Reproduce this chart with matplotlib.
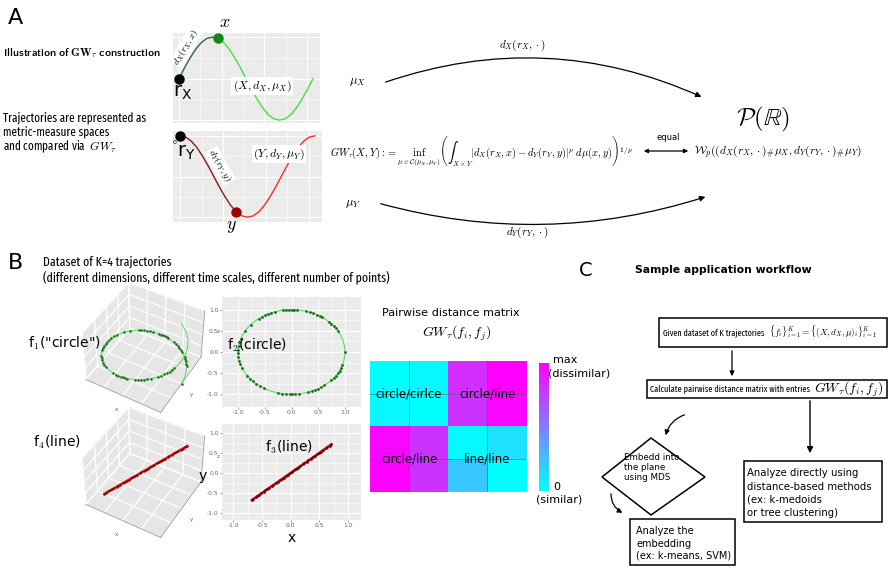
import numpy as np
import matplotlib
matplotlib.use("Agg")
import matplotlib.pyplot as plt
from matplotlib.patches import FancyArrowPatch, Rectangle, Polygon, Circle
from matplotlib import font_manager
from matplotlib.font_manager import FontProperties
from matplotlib.textpath import TextPath

plt.rcParams["mathtext.fontset"] = "cm"
plt.rcParams["font.family"] = ["DejaVu Sans"]

W, H = 888, 568

# ---------------- data ----------------
# sketch trajectories of panel A (one cycle, 25 samples)
wave_steps = list(range(25))
traj_x_vals = [0.00, 0.26, 0.50, 0.71, 0.87, 0.97, 1.00, 0.97, 0.87, 0.71, 0.50, 0.26, 0.00,
               -0.26, -0.50, -0.71, -0.87, -0.97, -1.00, -0.97, -0.87, -0.71, -0.50, -0.26, 0.00]
traj_y_vals = [1.00, 0.97, 0.87, 0.71, 0.50, 0.26, 0.00, -0.26, -0.50, -0.71, -0.87, -0.97, -1.00,
               -0.97, -0.87, -0.71, -0.50, -0.26, 0.00, 0.26, 0.50, 0.71, 0.87, 0.97, 1.00]
point_x_index = 7
point_y_index = 10

# sampled points of the "circle" trajectories (angle in degrees)
circle_dot_angles = [0, 30, 34, 38, 42, 46, 55, 58, 62, 66, 70, 74, 84, 87, 90, 93, 96, 99,
                     108, 112, 116, 120, 124, 128, 140, 150, 162, 167, 172, 177, 182, 187, 192,
                     197, 202, 214, 219, 224, 229, 234, 239, 255, 260, 264, 268, 271, 274, 278,
                     288, 292, 296, 300, 304, 308, 318, 322, 326, 330, 334, 338, 342]
helix_line_angles = list(range(0, 421, 10))
helix_rise = 0.55

# sampled points of the "line" trajectories
line_dot_pos = [-0.68, -0.65, -0.61, -0.58, -0.55, -0.51, -0.47, -0.44, -0.41, -0.37, -0.33, -0.30,
                -0.26, -0.22, -0.19, -0.15, -0.12, -0.08, -0.05, -0.01, 0.03, 0.06, 0.10, 0.13,
                0.17, 0.21, 0.24, 0.28, 0.31, 0.35, 0.39, 0.42, 0.46, 0.50, 0.53, 0.57, 0.61,
                0.64, 0.68, 0.71]

# pairwise GW distances (scaled 0..1)
matrix_labels = ["circle/cirlce", "circle/line", "circle/line", "line/line"]
dist_matrix = [[0.00, 0.03, 0.82, 1.00],
               [0.03, 0.00, 0.80, 0.98],
               [0.97, 0.80, 0.02, 0.12],
               [1.00, 0.80, 0.22, 0.00]]
axis_ticks = [-1.0, -0.5, 0.0, 0.5, 1.0]

# ---------------- helpers ----------------
def prect(x0, y0, x1, y1):
    return [x0 / W, 1 - y1 / H, (x1 - x0) / W, (y1 - y0) / H]


_SAMPLE = "Trajectories are represented as"


def _width(prop):
    return TextPath((0, 0), _SAMPLE, size=10, prop=prop).get_extents().width


def _pick_narrow(bold, target=0.76):
    """Installed sans face whose width is closest to `target` x DejaVu Sans."""
    ref = _width(FontProperties(family="DejaVu Sans", weight="bold" if bold else "normal"))
    best, best_err = None, None
    seen = set()
    for f in font_manager.fontManager.ttflist:
        if f.fname in seen or f.style != "normal":
            continue
        seen.add(f.fname)
        name = f.name
        if any(k in name for k in ("Mono", "Serif", "CJK", "Math", "Symbol", "Emoji", "Display")):
            continue
        if not ("Sans" in name or name.startswith(("Roboto", "Lato", "Inter", "Open"))):
            continue
        w = f.weight if isinstance(f.weight, (int, float)) else (700 if "bold" in str(f.weight) else 400)
        if bold and not (600 <= w <= 800):
            continue
        if not bold and not (380 <= w <= 520):
            continue
        try:
            r = _width(FontProperties(fname=f.fname)) / ref
        except Exception:
            continue
        err = abs(r - target)
        if best is None or err < best_err:
            best, best_err = f, err
    return best


_reg = _pick_narrow(False)
_bld = _pick_narrow(True)
NARROW = dict(fontproperties=FontProperties(fname=_reg.fname)) if _reg else dict(family="DejaVu Sans")
NARROW_B = (dict(fontproperties=FontProperties(fname=_bld.fname)) if _bld
            else dict(family="DejaVu Sans", fontweight="bold"))

GG_BG = "#ebebeb"


def gg_panel(ax, xmaj, ymaj, xmin=None, ymin=None, labels=False):
    ax.set_facecolor(GG_BG)
    for s in ax.spines.values():
        s.set_visible(False)
    ax.set_xticks(xmaj)
    ax.set_yticks(ymaj)
    if xmin is not None:
        ax.set_xticks(xmin, minor=True)
    if ymin is not None:
        ax.set_yticks(ymin, minor=True)
    ax.grid(which="major", color="white", lw=0.8)
    ax.grid(which="minor", color="white", lw=0.4)
    ax.set_axisbelow(True)
    ax.tick_params(which="minor", length=0)
    if labels:
        ax.tick_params(which="major", length=1.5, width=0.5, color="#777777",
                       labelsize=4.3, labelcolor="#666666", pad=1)
        ax.set_xticklabels([f"{t:.1f}" for t in xmaj])
        ax.set_yticklabels([f"{t:.1f}" for t in ymaj])
    else:
        ax.tick_params(which="major", length=0, labelbottom=False, labelleft=False)


def style3d(ax):
    ax.set_facecolor("none")
    for axis in (ax.xaxis, ax.yaxis, ax.zaxis):
        axis.set_pane_color((0.90, 0.90, 0.90, 1.0))
        axis._axinfo["grid"].update(color="white", linewidth=0.9)
        axis._axinfo["tick"].update(inward_factor=0, outward_factor=0)
        axis.line.set_color("#9a9a9a")
        axis.line.set_linewidth(0.6)
    ax.set_xticks([-1, -0.5, 0, 0.5, 1])
    ax.set_yticks([-1, -0.5, 0, 0.5, 1])
    ax.set_zticks([0, 0.25, 0.5, 0.75, 1])
    ax.set_xticklabels([])
    ax.set_yticklabels([])
    ax.set_zticklabels([])
    ax.set_xlabel("x", fontsize=4, labelpad=-14, color="#666666")
    ax.set_ylabel("y", fontsize=4, labelpad=-14, color="#666666")
    ax.set_zlabel("z", fontsize=4, labelpad=-14, color="#666666")


fig = plt.figure(figsize=(W / 100, H / 100), dpi=100)
fig.patch.set_facecolor("white")

# ---------------- panel A: sketch trajectories ----------------
t_vals = np.array(wave_steps) * np.pi / 12
axX = fig.add_axes(prect(173, 33, 320, 123))
gg_panel(axX, [0, 2, 4, 6], [-1, 0, 1], [1, 3, 5], [-0.5, 0.5])
axX.set_xlim(-0.28, 6.61)
axX.set_ylim(-1.07, 1.10)
k = point_x_index
axX.plot(t_vals[:k + 1], traj_x_vals[:k + 1], color="#2d6e2d", lw=1.0)
axX.plot(t_vals[k:], traj_x_vals[k:], color="#44e044", lw=1.0)
axX.plot(t_vals[0], traj_x_vals[0], "o", color="black", ms=6.5, clip_on=False, zorder=5)
axX.plot(t_vals[k], traj_x_vals[k], "o", color="#118811", ms=6.5, clip_on=False, zorder=5)

axY = fig.add_axes(prect(173, 131, 322, 222))
gg_panel(axY, [0, 2, 4, 6], [-1, 0, 1], [1, 3, 5], [-0.5, 0.5])
axY.set_xlim(-0.33, 6.61)
axY.set_ylim(-1.12, 1.12)
k = point_y_index
axY.plot(t_vals[:k + 1], traj_y_vals[:k + 1], color="#8b1a1a", lw=1.0)
axY.plot(t_vals[k:], traj_y_vals[k:], color="#ff2a2a", lw=1.0)
axY.plot(t_vals[0], traj_y_vals[0], "o", color="black", ms=6.5, clip_on=False, zorder=5)
axY.plot(t_vals[k], traj_y_vals[k], "o", color="#a00000", ms=6.5, clip_on=False, zorder=5)

# ---------------- panel B: trajectory plots ----------------
ang = np.deg2rad(circle_dot_angles)
hl = np.deg2rad(helix_line_angles)

ax1 = fig.add_axes(prect(70, 280, 215, 415), projection="3d")
style3d(ax1)
ax1.plot(np.cos(hl), np.sin(hl), helix_rise * hl / (2 * np.pi), color="#66dd66", lw=0.8)
ax1.plot(np.cos(ang), np.sin(ang), helix_rise * ang / (2 * np.pi), "o", color="#1a6e1a",
         ms=1.8, mec="none")
ax1.set_xlim(-1, 1)
ax1.set_ylim(-1, 1)
ax1.set_zlim(0, 1)
ax1.view_init(elev=45, azim=-60)

ax4 = fig.add_axes(prect(70, 405, 215, 540), projection="3d")
style3d(ax4)
lp = np.array(line_dot_pos)
ax4.plot(lp, lp, (lp + 1) / 2, color="#cc2222", lw=1.6)
ax4.plot(lp, lp, (lp + 1) / 2, "o", color="#8b0000", ms=1.8, mec="none")
ax4.set_xlim(-1, 1)
ax4.set_ylim(-1, 1)
ax4.set_zlim(0, 1)
ax4.view_init(elev=45, azim=-60)

ax2 = fig.add_axes(prect(222, 297, 361, 407))
gg_panel(ax2, axis_ticks, axis_ticks, [-0.75, -0.25, 0.25, 0.75], [-0.75, -0.25, 0.25, 0.75],
         labels=True)
ax2.set_xlim(-1.3, 1.3)
ax2.set_ylim(-1.3, 1.3)
ax2.add_patch(Circle((0, 0), 1.0, fill=False, ec="#55e055", lw=0.8))
ax2.plot(np.cos(ang), np.sin(ang), "o", color="#1a6e1a", ms=2.0, mec="none")

ax3 = fig.add_axes(prect(222, 424, 361, 520))
gg_panel(ax3, axis_ticks, axis_ticks, [-0.75, -0.25, 0.25, 0.75], [-0.75, -0.25, 0.25, 0.75],
         labels=True)
ax3.set_xlim(-1.2, 1.23)
ax3.set_ylim(-1.18, 1.22)
ax3.plot(lp, lp, color="#b01818", lw=1.6)
ax3.plot(lp, lp, "o", color="#7a0000", ms=2.0, mec="none")

# distance matrix
axm = fig.add_axes(prect(370, 361, 526, 492))
im = axm.imshow(np.array(dist_matrix), cmap="cool", vmin=0, vmax=1, aspect="auto",
                interpolation="nearest")
for v in (0.5, 2.5):
    axm.axvline(v, color="#555555", lw=0.6, alpha=0.6)
    axm.axhline(v, color="#555555", lw=0.6, alpha=0.6)
axm.set_xticks([])
axm.set_yticks([])
for s in axm.spines.values():
    s.set_visible(False)
for i, lab in enumerate(matrix_labels):
    r, c = divmod(i, 2)
    axm.text(2 * c + 0.5, 2 * r + 0.5, lab, ha="center", va="center", fontsize=8.4)

axc = fig.add_axes(prect(539, 363, 549, 491))
cb = fig.colorbar(im, cax=axc, ticks=[0.2, 0.4, 0.6, 0.8])
cb.outline.set_visible(False)
axc.tick_params(length=2, width=0.5, color="white", labelright=False)

# ---------------- overlay: text, arrows, flow chart ----------------
ov = fig.add_axes([0, 0, 1, 1], facecolor="none")
ov.set_xlim(0, W)
ov.set_ylim(H, 0)
ov.axis("off")
ov.set_zorder(10)
renderer = fig.canvas.get_renderer()


def fit_text(x, y, s, width, size, **kw):
    """Place a text and rescale its size so it spans `width` pixels."""
    t = ov.text(x, y, s, **kw)
    t.set_fontsize(size)
    w = t.get_window_extent(renderer).width
    t.set_fontsize(size * width / w)
    return t.get_fontsize()


def ntext(x, y, s, size, **kw):
    t = ov.text(x, y, s, **kw)
    t.set_fontsize(size)
    return t


# panel A
ov.text(15, 18, "A", fontsize=16, ha="center", va="center")
fit_text(3, 53, r"Illustration of $\mathbf{GW}_\tau$ construction", 159, 8,
         va="center", **NARROW_B)
fs = fit_text(3, 118, "Trajectories are represented as", 144, 8, va="center", **NARROW)
ntext(3, 132, "metric-measure spaces", fs, va="center", **NARROW)
ntext(3, 147, r"and compared via  $GW_\tau$", fs, va="center", **NARROW)

ov.text(225, 22, r"$x$", fontsize=13, ha="center", va="center")
ov.text(183, 93, r"$\mathregular{r_X}$", fontsize=14, ha="center", va="center")
ov.text(186, 47, r"$d_X(r_X,x)$", fontsize=7, rotation=59, ha="center", va="center",
        bbox=dict(fc="white", ec="none", pad=0.6))
ov.text(262, 86, r"$(X,d_X,\mu_X)$", fontsize=8.5, ha="center", va="center",
        bbox=dict(fc="white", ec="none", pad=0.8))
ov.text(175, 142, "0", fontsize=4.5, ha="center", va="center")
ov.text(186, 152, r"$\mathregular{r_Y}$", fontsize=14, ha="center", va="center")
ov.text(220, 166, r"$d_Y(r_Y,y)$", fontsize=7, rotation=-60, ha="center", va="center",
        bbox=dict(fc="white", ec="none", pad=0.6))
ov.text(279, 154, r"$(Y,d_Y,\mu_Y)$", fontsize=8.5, ha="center", va="center",
        bbox=dict(fc="white", ec="none", pad=0.8))
ov.text(231, 226, r"$y$", fontsize=13, ha="center", va="center")

ov.text(357, 82, r"$\mu_X$", fontsize=9, ha="center", va="center")
ov.text(353, 204, r"$\mu_Y$", fontsize=9, ha="center", va="center")
ov.add_patch(FancyArrowPatch((383, 83), (704, 98), connectionstyle="arc3,rad=-0.2",
                             arrowstyle="-|>", mutation_scale=8, lw=0.9, color="black"))
ov.add_patch(FancyArrowPatch((378, 203), (708, 196), connectionstyle="arc3,rad=0.15",
                             arrowstyle="-|>", mutation_scale=8, lw=0.9, color="black"))
ov.text(522, 45, r"$d_X(r_X,\cdot)$", fontsize=8, ha="center", va="center")
ov.text(527, 232, r"$d_Y(r_Y,\cdot)$", fontsize=8, ha="center", va="center")
ov.text(763, 119, r"$\mathcal{P}(\mathbb{R})$", fontsize=18, ha="center", va="center")
fit_text(330, 151, r"$GW_\tau(X,Y) := \underset{\mu\in\mathcal{C}(\mu_X,\mu_Y)}{\mathrm{inf}}"
         r"\left(\int_{X\times Y} |d_X(r_X,x)-d_Y(r_Y,y)|^p\ d\mu(x,y)\right)^{1/p}$",
         303, 7.4, ha="left", va="center")
ov.text(668, 137, "equal", fontsize=6, ha="center", va="center")
ov.add_patch(FancyArrowPatch((641, 151), (691, 151), arrowstyle="<|-|>", mutation_scale=6,
                             lw=0.9, color="black"))
fit_text(694, 152, r"$\mathcal{W}_p((d_X(r_X,\cdot)_{\#}\mu_X,d_Y(r_Y,\cdot)_{\#}\mu_Y)$",
         168, 8.3, ha="left", va="center")

# panel B
ov.text(15, 263, "B", fontsize=16, ha="center", va="center")
fs = fit_text(43, 262, "Dataset of K=4 trajectories", 129, 8.5, va="center", **NARROW)
ntext(43, 278, "(different dimensions, different time scales, different number of points)",
      fs, va="center", **NARROW)
ov.text(28, 343, r'f$_1$("circle")', fontsize=10, va="center")
ov.text(227, 345, r"f$_2$(circle)", fontsize=10, va="center")
ov.text(33, 442, r"f$_4$(line)", fontsize=10, va="center")
ov.text(265, 447, r"f$_3$(line)", fontsize=10, va="center")
ov.text(203, 476, "y", fontsize=10, ha="center", va="center")
ov.text(292, 538, "x", fontsize=10, ha="center", va="center")

ov.text(451, 313, "Pairwise distance matrix", fontsize=8.1, ha="center", va="center")
ov.text(457, 333, r"$GW_\tau(f_i,f_j)$", fontsize=10, ha="center", va="center")
ov.text(553, 360, "max", fontsize=8, ha="left", va="center")
ov.text(548, 373, "(dissimilar)", fontsize=8, ha="left", va="center")
ov.text(553, 487, "0", fontsize=8, ha="left", va="center")
ov.text(536, 500, "(similar)", fontsize=8, ha="left", va="center")

# panel C: workflow
ov.text(586, 270, "C", fontsize=14, ha="center", va="center")
ov.text(635, 270, "Sample application workflow", fontsize=7.8, fontweight="bold", va="center")

box_kw = dict(fill=False, ec="black", lw=1.1)
ov.add_patch(Rectangle((659, 318), 228, 29, **box_kw))
fit_text(663, 332, "Given dataset of K trajectories", 102, 7, va="center", **NARROW)
ov.text(769, 332, r"$\{f_i\}_{i=1}^K = \{(X,d_X,\mu)_i\}_{i=1}^K$", fontsize=6.5, va="center")
ov.add_patch(FancyArrowPatch((732, 348), (732, 379), arrowstyle="-|>", mutation_scale=7,
                             lw=0.9, color="black"))
ov.add_patch(Rectangle((647, 380), 240, 18, **box_kw))
fit_text(650, 389, "Calculate pairwise distance matrix with entries", 160, 7, va="center",
         **NARROW)
ov.text(814, 389, r"$GW_\tau(f_i,f_j)$", fontsize=10, va="center")
ov.add_patch(FancyArrowPatch((810, 398), (810, 456), arrowstyle="-|>", mutation_scale=9,
                             lw=1.0, color="black"))
ov.add_patch(FancyArrowPatch((687, 414), (665, 438), connectionstyle="arc3,rad=0.3",
                             arrowstyle="-|>", mutation_scale=7, lw=0.9, color="black"))
ov.add_patch(Polygon([(602, 477), (651, 438), (705, 477), (651, 515)], closed=True,
                     fill=False, ec="black", lw=1.1))
for yy, s in zip([457, 468, 478], ["Embedd into", "the plane", "using MDS"]):
    ov.text(624, yy, s, fontsize=6.3, va="center")
ov.add_patch(FancyArrowPatch((611, 491), (625, 514), connectionstyle="arc3,rad=0.35",
                             arrowstyle="-|>", mutation_scale=7, lw=0.9, color="black"))
ov.add_patch(Rectangle((630, 519), 105, 46, **box_kw))
for yy, s in zip([531, 544, 556], ["Analyze the", "embedding", "(ex: k-means, SVM)"]):
    ov.text(636, yy, s, fontsize=7, va="center")
ov.add_patch(Rectangle((744, 461), 138, 61, **box_kw))
for yy, s in zip([473, 487, 500, 513], ["Analyze directly using", "distance-based methods",
                                        "(ex: k-medoids", "or tree clustering)"]):
    ov.text(747, yy, s, fontsize=7.3, va="center")

fig.savefig("out.png", dpi=100, facecolor="white")
